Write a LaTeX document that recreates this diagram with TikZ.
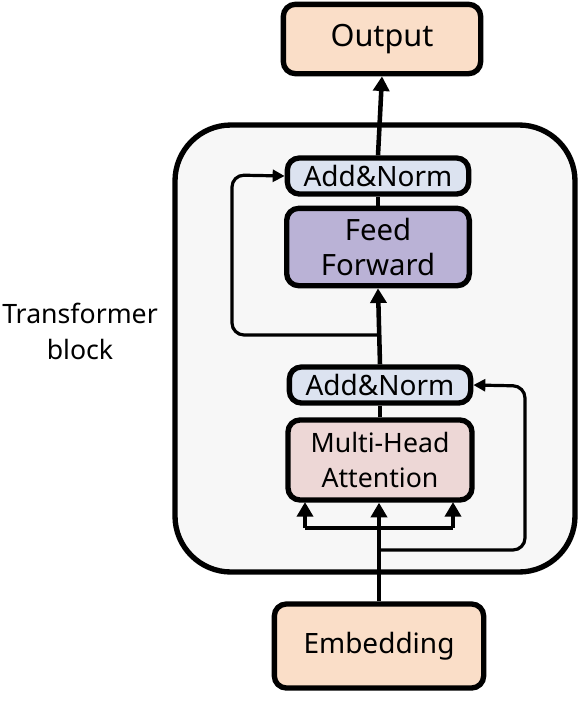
\documentclass[tikz,border=0pt]{standalone}
\usepackage{fontspec}
\setmainfont{Noto Sans}
\usepackage{xcolor}
\usepackage{tikz}
\usetikzlibrary{calc}
\usetikzlibrary{arrows.meta}

\definecolor{peach}{RGB}{250,222,200}
\definecolor{normblue}{RGB}{220,227,240}
\definecolor{ffpurple}{RGB}{186,178,214}
\definecolor{mhapink}{RGB}{237,215,214}
\definecolor{blockgray}{RGB}{247,247,247}

\begin{document}
\begin{tikzpicture}[x=0.75pt,y=-0.75pt,
    box/.style={draw,line width=4pt,rounded corners=9pt,align=center,
        font=\fontsize{20}{25}\selectfont,inner sep=0pt},
    normbox/.style={box,fill=normblue,minimum width=136pt,minimum height=27pt,
        font=\fontsize{21}{22}\selectfont},
    flow/.style={line width=3.4pt,-{Triangle[length=11pt,width=12pt]}},
    skip/.style={line width=2.4pt,rounded corners=9pt,-{Triangle[length=9pt,width=9pt]}}]
\useasboundingbox (0,0) rectangle (583,701);

% Transformer block
\draw[line width=4pt,fill=blockgray,rounded corners=42pt] (175,125) rectangle (575,572);
\node[font=\fontsize{20}{27}\selectfont,align=center] (blocklabel) at (80,331) {Transformer\\block};

% Boxes
\node[box,fill=peach,minimum width=148pt,minimum height=52pt,
    font=\fontsize{23}{25}\selectfont] (output) at (382,39) {Output};
\node[normbox] (addnorm2) at (378,176) {Add\&Norm};
\node[box,fill=ffpurple,minimum width=137pt,minimum height=58pt,
    font=\fontsize{22}{26}\selectfont] (ff) at (378,247) {Feed\\Forward};
\node[normbox] (addnorm1) at (380,385) {Add\&Norm};
\node[box,fill=mhapink,minimum width=138pt,minimum height=60pt,
    font=\fontsize{20}{26}\selectfont] (mha) at (380,460) {Multi-Head\\Attention};
\node[box,fill=peach,minimum width=157pt,minimum height=63pt,
    font=\fontsize{21}{25}\selectfont] (embed) at (379,646) {Embedding};

% Inputs to attention
\coordinate (split) at (378,528);
\coordinate (resin) at (378,550);
\draw[flow] (embed.north) -- (embed.north |- mha.south);
\draw[line width=3.4pt] (305,528) -- (453,528);
\draw[flow] (305,528) -- (305,502);
\draw[flow] (453,528) -- (453,502);

% Main path
\draw[line width=3.4pt] (mha.north) -- (addnorm1.south);
\draw[flow] (addnorm1.north) -- (ff.south);
\draw[line width=3.4pt] (ff.north) -- (addnorm2.south);
\draw[flow] (addnorm2.north) -- (output.south);

% Residual connections
\coordinate (res2) at (378,335);
\draw[skip] (res2) -- (232,335) -- (232,175) -- (addnorm2.west);
\draw[skip] (resin) -- (525,550) -- (525,386) -- (addnorm1.east);
\end{tikzpicture}
\end{document}
